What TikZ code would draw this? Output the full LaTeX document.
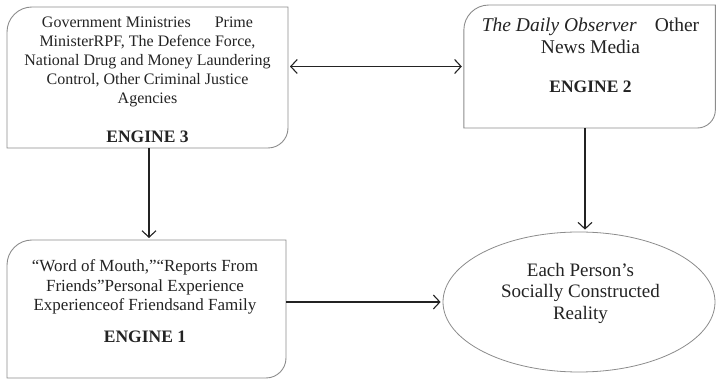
\documentclass[tikz,border=0pt]{standalone}
\usepackage{fontspec}
\setmainfont{Liberation Serif}
\usetikzlibrary{arrows.meta,shapes.geometric}

% Frame with a rounded top-left and a rounded bottom-right corner
\newcommand\engineframe[3]{%
  \draw[frameline] (#1.south west) -- ([yshift=-#2]#1.north west)
    arc[start angle=180,end angle=90,radius=#2] -- (#1.north east)
    -- ([yshift=#3]#1.south east)
    arc[start angle=0,end angle=-90,radius=#3] -- cycle;}

\definecolor{framegray}{RGB}{140,140,140}
\definecolor{inkdark}{RGB}{35,35,35}

\begin{document}
\begin{tikzpicture}[x=1pt,y=1pt,
  frameline/.style={draw=framegray,line width=0.9pt},
  area/.style={inner sep=0pt,outer sep=0pt,rectangle},
  bodytext/.style={align=center,text=inkdark,inner sep=0pt,
    font=\fontsize{16}{19.2}\selectfont},
  enginelabel/.style={text=inkdark,inner sep=0pt,
    font=\fontsize{17.5}{20}\selectfont\bfseries},
  barb/.tip={Straight Barb[length=6.5pt,width=14pt,line width=1.1pt]},
  link/.style={draw=inkdark,line width=1.1pt,-barb,shorten >=2pt},
  twoway/.style={link,barb-barb,shorten <=2pt}
]
\useasboundingbox (0,0) rectangle (716,380);

% Engine areas
\node[area,minimum width=281pt,minimum height=141pt] (e3) at (147.5,302.5) {};
\node[area,minimum width=251.5pt,minimum height=123pt] (e2) at (589.6,313.5) {};
\node[area,minimum width=279pt,minimum height=138pt] (e1) at (146.5,71) {};
\node[ellipse,draw=framegray,line width=0.8pt,inner sep=0pt,
      minimum width=272pt,minimum height=140pt] (ell) at (579,78) {};

\engineframe{e3}{25pt}{20pt}
\engineframe{e2}{25pt}{18pt}
\engineframe{e1}{25pt}{20pt}

% Texts
\node[bodytext] (t3) at (147.5,318) {Government Ministries\hspace{24pt}Prime\\
  MinisterRPF, The Defence Force,\\
  National Drug and Money Laundering\\
  Control, Other Criminal Justice\\
  Agencies};
\node[enginelabel] (l3) at (147.5,243) {ENGINE 3};

\node[bodytext,font=\fontsize{19.5}{22}\selectfont] (t2) at (590.5,344) {\textit{The Daily Observer}\hspace{18pt}Other\\
  News Media};
\node[enginelabel] (l2) at (590.5,293) {ENGINE 2};

\node[bodytext,font=\fontsize{17}{19.5}\selectfont] (t1) at (145,93) {“Word of Mouth,”“Reports From\\
  Friends”Personal Experience\\
  Experienceof Friendsand Family};
\node[enginelabel] (l1) at (145,43) {ENGINE 1};

\node[bodytext,font=\fontsize{19}{21.5}\selectfont] (te) at (580.5,87) {Each Person’s\\
  Socially Constructed\\
  Reality};

% Connectors
\draw[twoway] (e3.east |- e2.west) -- (e2.west);
\draw[link] ([xshift=1.5pt]e3.south) -- ([xshift=1.5pt]e3.south |- e1.north);
\draw[link] ([xshift=-4.6pt]e2.south) -- ([xshift=-4.6pt]e2.south |- ell.north);
\draw[link] (e1.east |- ell.west) -- (ell.west);
\end{tikzpicture}
\end{document}
